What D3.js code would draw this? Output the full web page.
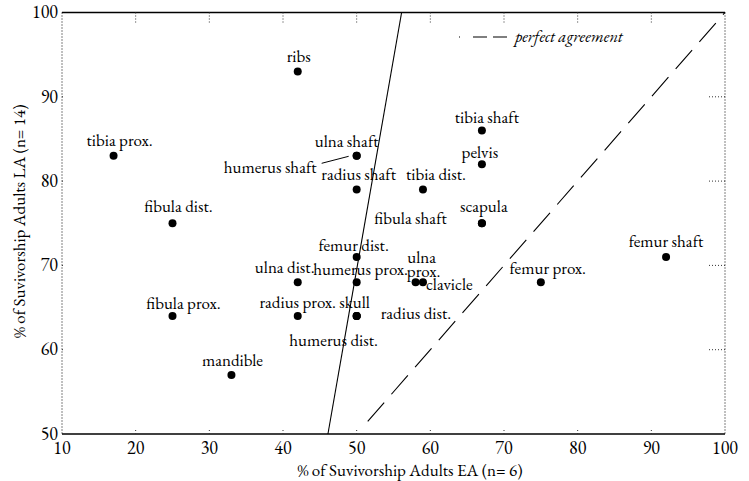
<!DOCTYPE html>
<html>
<head>
<meta charset="utf-8">
<script src="https://cdn.jsdelivr.net/npm/d3@7"></script>
<style>
  body { margin: 0; background: #fff; }
  text { font-variant-numeric: lining-nums; }
</style>
</head>
<body>
<svg id="chart"></svg>
<script>
// bone elements, % survivorship EA (x) vs LA (y)
const elements = ["ribs", "tibia prox.", "ulna shaft", "humerus shaft", "radius shaft", "tibia dist.",
  "tibia shaft", "pelvis", "fibula shaft", "scapula", "fibula dist.", "femur dist.", "femur shaft",
  "ulna dist.", "humerus prox.", "ulna prox.", "clavicle", "femur prox.", "fibula prox.",
  "radius prox.", "skull", "radius dist.", "humerus dist.", "mandible"];
const survEA = [42, 17, 50, 50, 50, 59, 67, 67, 67, 67, 25, 50, 92, 42, 50, 58, 59, 75, 25, 42, 50, 50, 50, 33];
const survLA = [93, 83, 83, 83, 79, 79, 86, 82, 75, 75, 75, 71, 71, 68, 68, 68, 68, 68, 64, 64, 64, 64, 64, 57];

const xTicks = [10, 20, 30, 40, 50, 60, 70, 80, 90, 100];
const yTicks = [50, 60, 70, 80, 90, 100];

// fitted line and the line of perfect agreement (x = y)
const fitX = [46.1, 56.1];
const fitY = [50, 100];
const agreeX = [51.5, 100];
const agreeY = [51.5, 100];

const xTitle = "% of Suvivorship Adults EA (n= 6)";
const yTitle = "% of Suvivorship Adults LA (n= 14)";
const legendText = "perfect agreement";

// label placement relative to the point: [dx, dy, anchor]
const labelPos = {
  "ribs": [1, -10, "middle"], "tibia prox.": [6, -10, "middle"], "ulna shaft": [-10, -9, "middle"],
  "humerus shaft": [-40, 17, "end"], "radius shaft": [2, -10, "middle"], "tibia dist.": [13, -10, "middle"],
  "tibia shaft": [5, -8, "middle"], "pelvis": [-2, -6, "middle"], "fibula shaft": [-35, 1, "end"],
  "scapula": [2, -11, "middle"], "fibula dist.": [6, -11, "middle"], "femur dist.": [-3, -6, "middle"],
  "femur shaft": [0, -10, "middle"], "ulna dist.": [-13, -9, "middle"], "humerus prox.": [4, -7, "middle"],
  "ulna prox.": [6, -19, "middle"], "clavicle": [3, 8, "start"], "femur prox.": [7, -8, "middle"],
  "fibula prox.": [11, -7, "middle"], "radius prox.": [0, -8, "middle"], "skull": [-2, -8, "middle"],
  "radius dist.": [24, 3, "start"], "humerus dist.": [-23, 30, "middle"], "mandible": [1, -9, "middle"]
};

const W = 749, H = 481;
const m = {top: 12.5, right: 24, bottom: 47, left: 62};
const FONT = "EB Garamond";
const INK = "#000";

const svg = d3.select("#chart").attr("width", W).attr("height", H);

const x = d3.scaleLinear().domain([10, 100]).range([m.left, W - m.right]);
const y = d3.scaleLinear().domain([50, 100]).range([H - m.bottom, m.top]);

const x0 = x(10), x1 = x(100), y0 = y(50), y1 = y(100);

// frame: solid top/bottom, dotted left/right
svg.append("line").attr("x1", x0).attr("x2", x1).attr("y1", y1).attr("y2", y1)
  .attr("stroke", "#000").attr("stroke-width", 1.5);
svg.append("line").attr("x1", x0).attr("x2", x1).attr("y1", y0).attr("y2", y0)
  .attr("stroke", "#000").attr("stroke-width", 1.5);
[x0, x1].forEach(xx => {
  svg.append("line").attr("x1", xx).attr("x2", xx).attr("y1", y1).attr("y2", y0)
    .attr("stroke", "#000").attr("stroke-width", 1).attr("stroke-dasharray", "1,2");
});

// dotted inner ticks
const innerX = xTicks.slice(1, -1), innerY = yTicks.slice(1, -1);
svg.selectAll(".ttick").data(innerX).enter().append("line")
  .attr("x1", d => x(d)).attr("x2", d => x(d)).attr("y1", y1).attr("y2", y1 + 10)
  .attr("stroke", "#333").attr("stroke-dasharray", "1,2");
svg.selectAll(".btick").data(innerX).enter().append("line")
  .attr("x1", d => x(d)).attr("x2", d => x(d)).attr("y1", y0).attr("y2", y0 - 6)
  .attr("stroke", "#333").attr("stroke-dasharray", "1,2");
svg.selectAll(".rtick").data(innerY).enter().append("line")
  .attr("x1", x1).attr("x2", x1 - 16).attr("y1", d => y(d)).attr("y2", d => y(d))
  .attr("stroke", "#333").attr("stroke-dasharray", "1,2");
svg.selectAll(".ltick").data(innerY).enter().append("line")
  .attr("x1", x0).attr("x2", x0 + 3).attr("y1", d => y(d)).attr("y2", d => y(d))
  .attr("stroke", "#333").attr("stroke-dasharray", "1,2");

// tick labels
svg.selectAll(".xlab").data(xTicks).enter().append("text")
  .attr("font-family", FONT).attr("fill", INK)
  .attr("x", d => x(d)).attr("y", y0 + 20)
  .attr("text-anchor", "middle").attr("font-size", "18px").text(d => d);
svg.selectAll(".ylab").data(yTicks).enter().append("text")
  .attr("font-family", FONT).attr("fill", INK)
  .attr("x", x0 - 4).attr("y", d => y(d)).attr("dy", "0.32em")
  .attr("text-anchor", "end").attr("font-size", "18px").text(d => d);

// axis titles
svg.append("text").attr("x", 410).attr("y", H - 5)
  .attr("font-family", FONT).attr("fill", INK)
  .attr("text-anchor", "middle").attr("font-size", "17px").text(xTitle);
svg.append("text").attr("transform", `translate(25,${(y0 + y1) / 2 - 2}) rotate(-90)`)
  .attr("font-family", FONT).attr("fill", INK)
  .attr("text-anchor", "middle").attr("font-size", "17px").text(yTitle);

// fitted line
const line = d3.line().x(d => x(d[0])).y(d => y(d[1]));
svg.append("path").attr("d", line(d3.zip(fitX, fitY)))
  .attr("stroke", "#000").attr("stroke-width", 1.1).attr("fill", "none");
// perfect agreement
svg.append("path").attr("d", line(d3.zip(agreeX, agreeY)))
  .attr("stroke", "#000").attr("stroke-width", 1.1).attr("fill", "none")
  .attr("stroke-dasharray", "25,11");

// legend
svg.append("line").attr("x1", 459).attr("x2", 507).attr("y1", 37).attr("y2", 37)
  .attr("stroke", "#000").attr("stroke-width", 1.1).attr("stroke-dasharray", "1,13,14,6,14");
svg.append("text").attr("x", 515).attr("y", 42)
  .attr("font-family", FONT).attr("fill", INK).attr("font-size", "16.5px")
  .attr("font-style", "italic").text(legendText);

// points
const pts = d3.zip(elements, survEA, survLA);
svg.selectAll(".pt").data(pts).enter().append("circle")
  .attr("cx", d => x(d[1])).attr("cy", d => y(d[2])).attr("r", 4).attr("fill", "#000");

// labels
pts.forEach(d => {
  const p = labelPos[d[0]];
  const t = svg.append("text")
    .attr("font-family", FONT).attr("fill", INK)
    .attr("x", x(d[1]) + p[0]).attr("y", y(d[2]) + p[1])
    .attr("text-anchor", p[2]).attr("font-size", "17px");
  if (d[0] === "ulna prox.") {
    t.append("tspan").attr("x", x(d[1]) + p[0]).text("ulna");
    t.append("tspan").attr("x", x(d[1]) + p[0] + 2).attr("dy", 14).text("prox.");
  } else {
    t.text(d[0]);
  }
});

// leader from the humerus shaft label to its point
const hs = elements.indexOf("humerus shaft");
svg.append("line")
  .attr("x1", x(survEA[hs]) - 35).attr("y1", y(survLA[hs]) + 7.5)
  .attr("x2", x(survEA[hs]) - 8).attr("y2", y(survLA[hs]) + 0.5)
  .attr("stroke", "#000").attr("stroke-width", 1);
</script>
</body>
</html>
